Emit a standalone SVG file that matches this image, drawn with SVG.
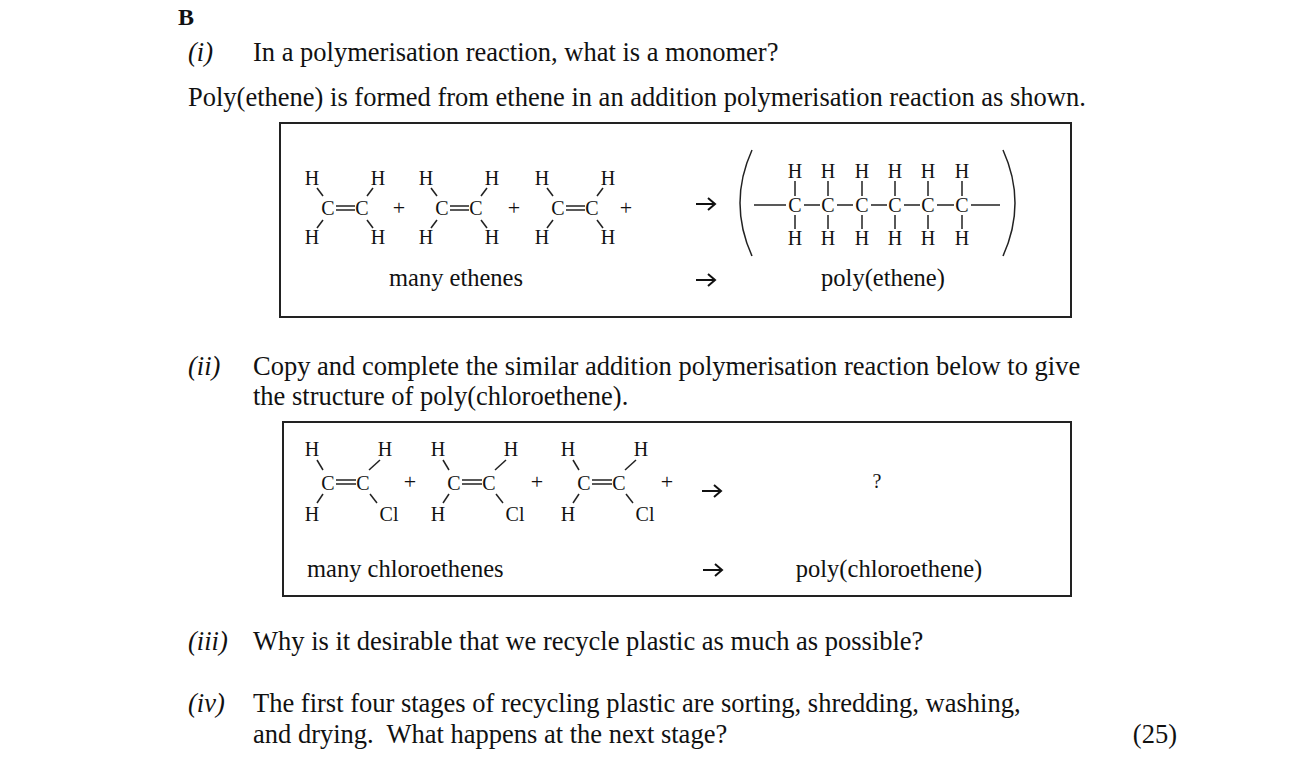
<svg xmlns="http://www.w3.org/2000/svg" width="1316" height="776" viewBox="0 0 1316 776">
<defs>
<style>
text{font-family:"Liberation Serif","Times New Roman",serif;fill:#111}
.q{font-size:26.5px}
.s{font-size:24.5px}
.a{font-size:20px}
.p{font-size:22px}
.m{text-anchor:middle}
.b{stroke:#222;stroke-width:1.5;fill:none}
.ar{stroke:#111;stroke-width:2;fill:none}
.box{fill:none;stroke:#222;stroke-width:2}
</style>
<path id="arrow" class="ar" d="M-9 0H9M3-6L10 0L3 6"/>
<g id="ethene">
<text class="a m" x="312" y="185">H</text>
<text class="a m" x="378" y="185">H</text>
<text class="a m" x="312" y="244">H</text>
<text class="a m" x="378" y="244">H</text>
<text class="a m" x="328" y="215">C</text>
<text class="a m" x="362" y="215">C</text>
<line class="b" x1="336" y1="206" x2="355" y2="206"/><line class="b" x1="336" y1="210" x2="355" y2="210"/>
<line class="b" x1="317" y1="188" x2="323" y2="196"/><line class="b" x1="373" y1="188" x2="367" y2="196"/>
<line class="b" x1="317" y1="228" x2="323" y2="220"/><line class="b" x1="373" y1="228" x2="367" y2="220"/>
</g>
<g id="chloro">
<text class="a m" x="312" y="456">H</text>
<text class="a m" x="385" y="456">H</text>
<text class="a m" x="312" y="521">H</text>
<text class="a m" x="389" y="521">Cl</text>
<text class="a m" x="328" y="490">C</text>
<text class="a m" x="363" y="490">C</text>
<line class="b" x1="336" y1="480" x2="356" y2="480"/><line class="b" x1="336" y1="484" x2="356" y2="484"/>
<line class="b" x1="317" y1="460" x2="323" y2="470"/><line class="b" x1="380" y1="460" x2="369" y2="470"/>
<line class="b" x1="317" y1="503" x2="323" y2="494"/><line class="b" x1="370" y1="494" x2="377" y2="503"/>
</g>
</defs>
<rect width="1316" height="776" fill="#fff"/>
<text x="178" y="25" style="font-size:24px;font-weight:bold">B</text>
<text class="q" x="188" y="61"><tspan font-style="italic">(i)</tspan></text>
<text class="q" x="253" y="61">In a polymerisation reaction, what is a monomer?</text>
<text class="q" x="188" y="106">Poly(ethene) is formed from ethene in an addition polymerisation reaction as shown.</text>
<g id="box1">
<rect class="box" x="280" y="123" width="791" height="194"/>
<use href="#ethene"/>
<use href="#ethene" x="114"/>
<use href="#ethene" x="230"/>
<text class="p m" x="399" y="215">+</text>
<text class="p m" x="514" y="215">+</text>
<text class="p m" x="626" y="215">+</text>
<use href="#arrow" x="705" y="204"/>
<path class="b" d="M752 150 Q728 203 752 256"/>
<path class="b" d="M1003 150 Q1027 203 1003 256"/>
<g id="poly">
<line class="b" x1="754" y1="205" x2="786" y2="205"/>
<line class="b" x1="971" y1="205" x2="1000" y2="205"/>
<g class="a m">
<text x="795" y="178">H</text><text x="828" y="178">H</text><text x="862" y="178">H</text><text x="895" y="178">H</text><text x="928" y="178">H</text><text x="962" y="178">H</text>
<text x="795" y="212">C</text><text x="828" y="212">C</text><text x="862" y="212">C</text><text x="895" y="212">C</text><text x="928" y="212">C</text><text x="962" y="212">C</text>
<text x="795" y="245">H</text><text x="828" y="245">H</text><text x="862" y="245">H</text><text x="895" y="245">H</text><text x="928" y="245">H</text><text x="962" y="245">H</text>
</g>
<path class="b" d="M804 205H820M837 205H853M871 205H887M904 205H920M937 205H954M795 181V196M828 181V196M862 181V196M895 181V196M928 181V196M962 181V196M795 215V229M828 215V229M862 215V229M895 215V229M928 215V229M962 215V229"/>
</g>
<text class="s m" x="456" y="286">many ethenes</text>
<use href="#arrow" x="705" y="280"/>
<text class="s m" x="883" y="286">poly(ethene)</text>
</g>
<text class="q" x="188" y="375"><tspan font-style="italic">(ii)</tspan></text>
<text class="q" x="253" y="375">Copy and complete the similar addition polymerisation reaction below to give</text>
<text class="q" x="253" y="405">the structure of poly(chloroethene).</text>
<g id="box2">
<rect class="box" x="283" y="422" width="788" height="174"/>
<use href="#chloro"/>
<use href="#chloro" x="126"/>
<use href="#chloro" x="256"/>
<text class="p m" x="410" y="489">+</text>
<text class="p m" x="537" y="489">+</text>
<text class="p m" x="667" y="489">+</text>
<use href="#arrow" x="711" y="491"/>
<text class="a m" x="877" y="488">?</text>
<text class="s" x="307" y="577">many chloroethenes</text>
<use href="#arrow" x="712" y="570"/>
<text class="s m" x="889" y="577">poly(chloroethene)</text>
</g>
<text class="q" x="188" y="650"><tspan font-style="italic">(iii)</tspan></text>
<text class="q" x="253" y="650">Why is it desirable that we recycle plastic as much as possible?</text>
<text class="q" x="188" y="712"><tspan font-style="italic">(iv)</tspan></text>
<text class="q" x="253" y="712">The first four stages of recycling plastic are sorting, shredding, washing,</text>
<text class="q" x="253" y="743" xml:space="preserve">and drying.  What happens at the next stage?</text>
<text class="q" x="1177" y="743" text-anchor="end">(25)</text>
</svg>
